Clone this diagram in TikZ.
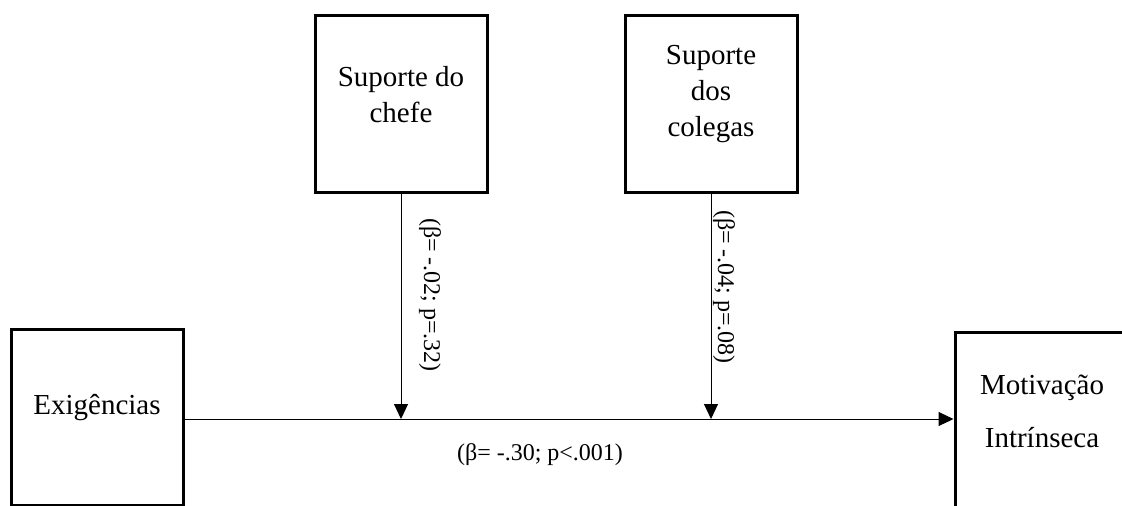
\documentclass[tikz,border=0pt]{standalone}
\usepackage{fontspec}
\setmainfont{Liberation Serif}
\usetikzlibrary{arrows.meta}
\begin{document}
\begin{tikzpicture}[x=0.5pt,y=-0.5pt,
  box/.style={draw, line width=1.5pt, inner sep=0pt, minimum width=86pt, minimum height=88.5pt},
  boxtext/.style={align=center, inner sep=0pt, font=\fontsize{14.5}{18}\selectfont},
  lab/.style={inner sep=0pt, font=\fontsize{12}{14}\selectfont},
  arr/.style={line width=0.5pt, -{Triangle[length=7.5pt,width=7pt]}}]
\clip (0,0) rectangle (1122,505);
% boxes
\node[box, minimum height=88pt] (exi) at (97,417) {};
\node[box, minimum width=90pt, minimum height=94pt] (mot) at (1045,426) {};
\node[box] (sc) at (401,103.5) {};
\node[box] (sd) at (711,103.5) {};
% texts
\node[boxtext] (exit) at (97,408) {Exigências};
\node[boxtext, font=\fontsize{14.5}{26.5}\selectfont] (mott) at (1042,411.5) {Motivação\\Intrínseca};
\node[boxtext] (sct) at (401,95) {Suporte do\\chefe};
\node[boxtext] (sdt) at (711,94) {Suporte\\dos\\colegas};
% junctions
\coordinate (j1) at (401,419);
\coordinate (j2) at (711,419);
% connectors
\draw[arr] (exi.east |- j1) -- (mot.west |- j1);
\draw[arr] (sc.south) -- (j1);
\draw[arr] (sd.south) -- (j2);
% labels
\node[lab, rotate=-90] (l1) at (430,295) {(β= -.02; p=.32)};
\node[lab, rotate=-90] (l2) at (724,287) {(β= -.04; p=.08)};
\node[lab] (l3) at (540,455) {(β= -.30; p<.001)};
\end{tikzpicture}
\end{document}
